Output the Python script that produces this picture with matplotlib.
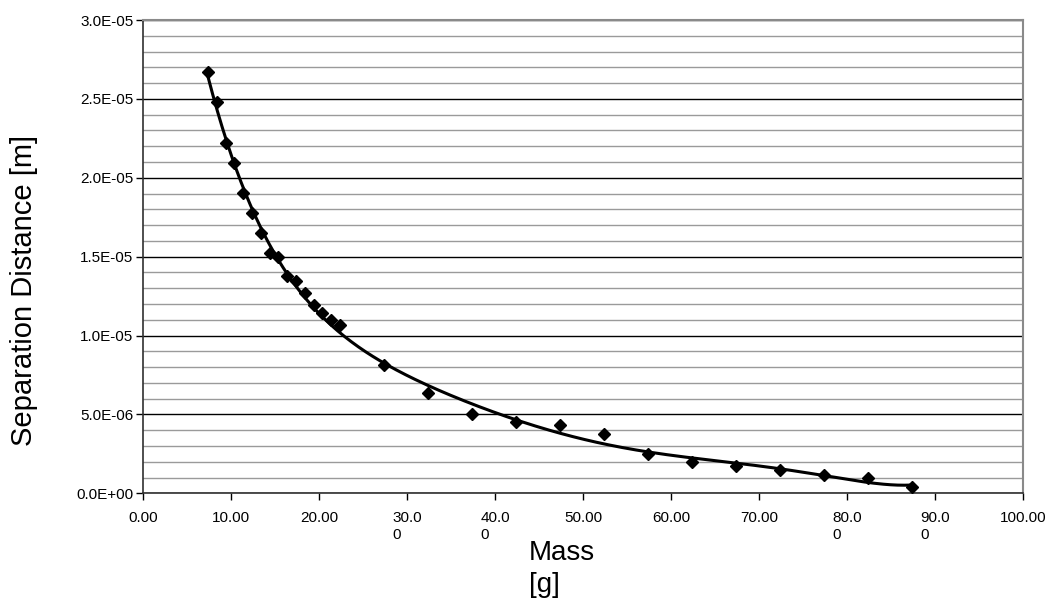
import numpy as np
import matplotlib
matplotlib.use("Agg")
import matplotlib.pyplot as plt
from matplotlib.ticker import MultipleLocator

plt.rcParams['font.family'] = ['Liberation Sans', 'DejaVu Sans']

# data
mass = [7.35, 8.35, 9.35, 10.35, 11.35, 12.35, 13.35, 14.35, 15.35, 16.35,
        17.35, 18.35, 19.35, 20.35, 21.35, 22.35, 27.35, 32.35, 37.35, 42.35,
        47.35, 52.35, 57.35, 62.35, 67.35, 72.35, 77.35, 82.35, 87.35]
dist_um = [26.68, 24.78, 22.22, 20.95, 19.01, 17.74, 16.51, 15.21, 14.99, 13.79,
           13.47, 12.67, 11.93, 11.41, 10.98, 10.65, 8.14, 6.34, 5.04, 4.55,
           4.30, 3.77, 2.50, 2.00, 1.73, 1.47, 1.14, 0.99, 0.38]
dist = np.array(dist_um) * 1e-6

xticks = [0, 10, 20, 30, 40, 50, 60, 70, 80, 90, 100]
xlabels = ['0.00', '10.00', '20.00', '30.0\n0', '40.0\n0', '50.00', '60.00',
           '70.00', '80.0\n0', '90.0\n0', '100.00']
yticks = [0, 5e-6, 1e-5, 1.5e-5, 2e-5, 2.5e-5, 3e-5]
ylabels = ['0.0E+00', '5.0E-06', '1.0E-05', '1.5E-05', '2.0E-05', '2.5E-05', '3.0E-05']

W, H = 1054, 603
fig = plt.figure(figsize=(W / 100, H / 100), dpi=100)
ax = fig.add_axes([143.3 / W, 1 - 493.3 / H, (1023 - 143.3) / W, (493.3 - 20) / H])

# polynomial trendline through the points
coef = np.polyfit(mass, dist, 6)
xs = np.linspace(min(mass), max(mass), 300)
ax.plot(xs, np.polyval(coef, xs), color='black', lw=2.2, zorder=3)
ax.plot(mass, dist, 'D', color='black', ms=5.8, zorder=4)

ax.set_xlim(0, 100)
ax.set_ylim(0, 3e-5)
ax.set_xticks(xticks)
ax.set_xticklabels(xlabels, fontsize=11)
for t in ax.get_xticklabels():
    t.set_multialignment('left')
ax.set_yticks(yticks)
ax.set_yticklabels(ylabels, fontsize=11)
ax.yaxis.set_minor_locator(MultipleLocator(1e-6))
ax.tick_params(axis='y', which='minor', length=0)
ax.tick_params(which='major', length=5, width=1, color='black')
ax.tick_params(axis='x', pad=8)
ax.tick_params(axis='y', pad=2)
ax.grid(which='minor', axis='y', color='#9a9a9a', lw=1)
ax.grid(which='major', axis='y', color='black', lw=1)
ax.set_axisbelow(True)
for s in ['top', 'right']:
    ax.spines[s].set_color('#8a8a8a')
    ax.spines[s].set_linewidth(1.5)
for s in ['left', 'bottom']:
    ax.spines[s].set_color('#303030')
    ax.spines[s].set_linewidth(1.2)

fig.text(529 / W, 1 - 560 / H, 'Mass', fontsize=20, ha='left', va='baseline')
fig.text(529 / W, 1 - 592 / H, '[g]', fontsize=20, ha='left', va='baseline')
fig.text(24 / W, 1 - 290 / H, 'Separation Distance [m]', fontsize=21,
         rotation=90, ha='center', va='center')

fig.savefig('out.png', dpi=100)
